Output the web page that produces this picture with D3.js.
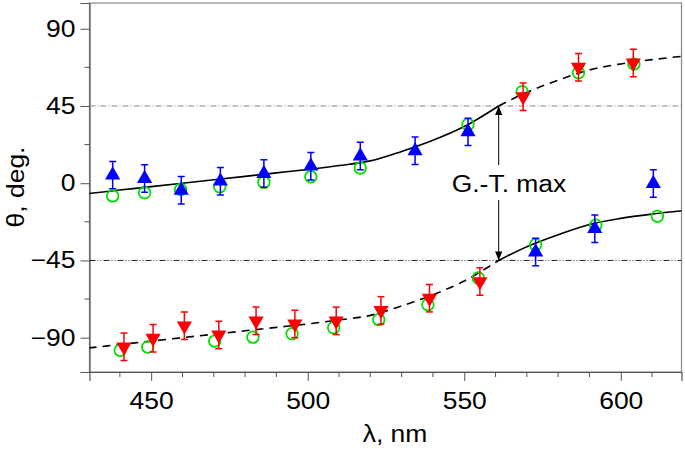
<!DOCTYPE html>
<html><head><meta charset="utf-8">
<script src="https://cdn.jsdelivr.net/npm/d3@7"></script>
<style>body{margin:0;background:#fff}svg{display:block}text{font-family:"Liberation Sans",Arial,sans-serif}</style>
</head><body>
<script>
// ---- data ----
const xTicks = [450, 500, 550, 600];
const yTicks = [-90, -45, 0, 45, 90];
const err = 8;
// fitted curves
const curveLambda = [430, 440, 450, 460, 470, 480, 490, 500, 510, 520, 530, 540, 550, 561, 570, 580, 590, 600, 610, 620];
const curveUpper  = [-6, -4, -2, 0, 2, 4, 6, 8, 10.3, 13, 18.5, 25, 33, 45, 53, 60, 66, 69.5, 72, 74];
const curveLower  = [-96, -94, -92, -90, -88, -86, -84, -82, -79.7, -77, -71.5, -65, -57, -45, -37, -30, -24, -20.5, -18, -16];
const gtMax = 561;
// green open circles
const circLambda = [437.7, 447.9, 459.4, 471.9, 486, 501, 516.8, 551.2, 568.5, 586.5, 604.2,
                    440.1, 448.9, 470.3, 482.5, 495, 508.3, 522.7, 538.4, 554.5, 572.8, 592, 611.7];
const circTheta  = [-7.4, -5.6, -3.7, -2.1, 0.6, 3.7, 8.9, 34.2, 53.3, 64.4, 69.4,
                    -97.4, -95.5, -92, -89.7, -87.7, -84.2, -79.5, -70.8, -55.2, -35.8, -24.5, -19.3];
// blue up-triangles
const blueLambda = [437.7, 447.9, 459.6, 472.1, 486, 501, 516.8, 534.3, 551.2, 610.4, 572.8, 591.7];
const blueTheta  = [4.7, 2.7, -4.1, 1.2, 5.6, 9.9, 15.8, 18.9, 29.9, -0.2, -40.1, -26.5];
// red down-triangles
const redLambda = [568.8, 586.5, 604, 441.3, 450.6, 460.6, 471.6, 483.5, 495.9, 509.1, 523.4, 538.9, 555];
const redTheta  = [50.4, 67.6, 70.1, -95.3, -90.3, -83.1, -88.4, -80.2, -82, -80.2, -74.1, -67, -57.3];

// ---- chart ----
const W = 685, H = 449;
const L = 89.5, R = 681.5, T = 3, B = 372;
const svg = d3.select("body").append("svg").attr("width", W).attr("height", H);
const x = d3.scaleLinear().domain([430.3, 619.4]).range([L, R]);
const y = d3.scaleLinear().domain([-110, 105]).range([B, T]);

const defs = svg.append("defs");
defs.append("clipPath").attr("id", "clip").append("rect")
  .attr("x", L).attr("y", T).attr("width", R - L).attr("height", B - T);
defs.append("marker").attr("id", "ah").attr("viewBox", "0 0 10 10").attr("refX", 10).attr("refY", 5)
  .attr("markerWidth", 9).attr("markerHeight", 9).attr("markerUnits", "userSpaceOnUse").attr("orient", "auto")
  .append("path").attr("d", "M0,1 L10,5 L0,9 Z").attr("fill", "#000");

// frame
svg.append("rect").attr("x", L).attr("y", T).attr("width", R - L).attr("height", B - T)
  .attr("fill", "none").attr("stroke", "#888").attr("stroke-width", 1.2);

// axes
const fs = 23;
const xAxis = d3.axisBottom(x).tickValues(xTicks).tickSize(9).tickPadding(12).tickFormat(d3.format("d"));
const gx = svg.append("g").attr("transform", `translate(0,${B})`).call(xAxis);
const xMinor = d3.range(440, 620, 10).filter(v => !xTicks.includes(v));
gx.selectAll(".minor").data(xMinor).enter().append("line").attr("class", "minor")
  .attr("x1", d => x(d)).attr("x2", d => x(d)).attr("y1", 0).attr("y2", 5).attr("stroke", "#555");
const yAxis = d3.axisLeft(y).tickValues(yTicks).tickSize(9).tickPadding(5)
  .tickFormat(d => d < 0 ? "\u2212" + Math.abs(d) : d);
const gy = svg.append("g").attr("transform", `translate(${L},0)`).call(yAxis);
const yMinor = [-67.5, -22.5, 22.5, 67.5];
gy.selectAll(".minor").data(yMinor).enter().append("line").attr("class", "minor")
  .attr("y1", d => y(d)).attr("y2", d => y(d)).attr("x1", 0).attr("x2", -5).attr("stroke", "#555");
[gx, gy].forEach(g => {
  g.select(".domain").attr("stroke", "#555").attr("stroke-width", 1.2);
  g.selectAll(".tick line").attr("stroke", "#555");
  g.selectAll("text").attr("font-size", fs).attr("fill", "#000").style("font-family", '"Liberation Sans", Arial, sans-serif');
});

svg.append("text").attr("x", 395).attr("y", 442).attr("text-anchor", "middle")
  .attr("font-size", fs).text("\u03bb, nm");
svg.append("text").attr("transform", `translate(24,187) rotate(-90)`).attr("text-anchor", "middle")
  .attr("font-size", fs).text("\u03b8, deg.");

const plot = svg.append("g").attr("clip-path", "url(#clip)");

// reference lines
plot.append("line").attr("x1", L).attr("x2", R).attr("y1", y(45)).attr("y2", y(45))
  .attr("stroke", "#888").attr("stroke-width", 1).attr("stroke-dasharray", "6,2,1,2");
plot.append("line").attr("x1", L).attr("x2", R).attr("y1", y(-45)).attr("y2", y(-45))
  .attr("stroke", "#222").attr("stroke-width", 1).attr("stroke-dasharray", "6,2,1,2,1,2");

// curves
const pts = arr => curveLambda.map((l, i) => [l, arr[i]]);
const line = d3.line().x(d => x(d[0])).y(d => y(d[1])).curve(d3.curveMonotoneX);
function drawPart(arr, before, dashed) {
  const p = pts(arr).filter(d => before ? d[0] <= gtMax : d[0] >= gtMax);
  plot.append("path").attr("d", line(p)).attr("fill", "none").attr("stroke", "#000")
    .attr("stroke-width", 1.6).attr("stroke-dasharray", dashed ? "8,6" : null);
}
drawPart(curveUpper, true, false);
drawPart(curveUpper, false, true);
drawPart(curveLower, true, true);
drawPart(curveLower, false, false);

// arrows
const ax = x(gtMax);
svg.append("line").attr("x1", ax).attr("x2", ax).attr("y1", 165).attr("y2", y(45))
  .attr("stroke", "#000").attr("stroke-width", 1).attr("marker-end", "url(#ah)");
svg.append("line").attr("x1", ax).attr("x2", ax).attr("y1", 200).attr("y2", y(-45))
  .attr("stroke", "#000").attr("stroke-width", 1).attr("marker-end", "url(#ah)");
svg.append("text").attr("x", 509).attr("y", 192).attr("text-anchor", "middle")
  .attr("font-size", fs).text("G.-T. max");

// circles
plot.selectAll(".c").data(circLambda.map((l, i) => [l, circTheta[i]])).enter().append("circle")
  .attr("cx", d => x(d[0])).attr("cy", d => y(d[1])).attr("r", 5.8)
  .attr("fill", "none").attr("stroke", "#00e000").attr("stroke-width", 1.8);

function drawTri(lam, th, color, up) {
  const data = lam.map((l, i) => [l, th[i]]);
  const g = plot.append("g");
  const cap = 3.5;
  data.forEach(d => {
    const cx = x(d[0]), y0 = y(d[1] - err), y1 = y(d[1] + err);
    g.append("line").attr("x1", cx).attr("x2", cx).attr("y1", y0).attr("y2", y1).attr("stroke", color).attr("stroke-width", 1.5);
    g.append("line").attr("x1", cx - cap).attr("x2", cx + cap).attr("y1", y0).attr("y2", y0).attr("stroke", color).attr("stroke-width", 1.5);
    g.append("line").attr("x1", cx - cap).attr("x2", cx + cap).attr("y1", y1).attr("y2", y1).attr("stroke", color).attr("stroke-width", 1.5);
  });
  const sym = d3.symbol().type(d3.symbolTriangle).size(100);
  g.selectAll("path").data(data).enter().append("path").attr("d", sym)
    .attr("transform", d => `translate(${x(d[0])},${y(d[1])}) rotate(${up ? 0 : 180})`)
    .attr("fill", color);
}
drawTri(blueLambda, blueTheta, "#0000ff", true);
drawTri(redLambda, redTheta, "#ff0000", false);

// the original's lettering is slightly wider than Liberation Sans
svg.selectAll("text").each(function () {
  const w = this.getComputedTextLength();
  d3.select(this).attr("textLength", w * 1.15).attr("lengthAdjust", "spacingAndGlyphs");
});
</script>
</body></html>
